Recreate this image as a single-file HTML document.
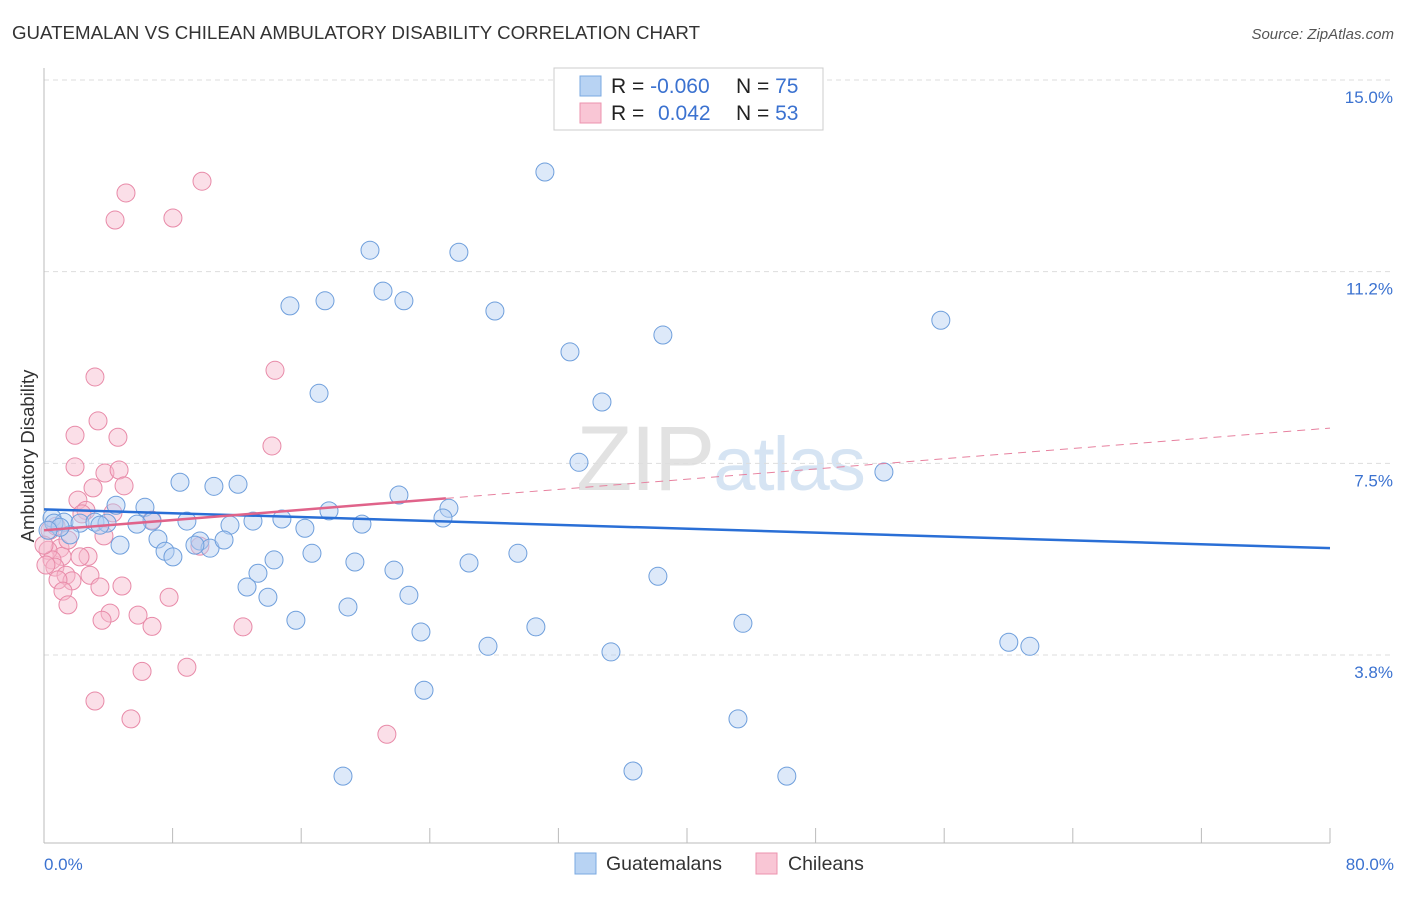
<!DOCTYPE html>
<html><head><meta charset="utf-8"><style>
body{margin:0;background:#fff;font-family:"Liberation Sans",sans-serif;}
svg text{font-family:"Liberation Sans",sans-serif;}
</style></head><body>
<svg id="chart" width="1406" height="892" xmlns="http://www.w3.org/2000/svg">
<text x="12" y="39" font-size="18" fill="#333" textLength="688" lengthAdjust="spacingAndGlyphs">GUATEMALAN VS CHILEAN AMBULATORY DISABILITY CORRELATION CHART</text>
<text x="1394" y="39" font-size="15" fill="#555" text-anchor="end" font-style="italic">Source: ZipAtlas.com</text>
<text x="720" y="490" font-size="92" fill="#e2e2e2" text-anchor="middle" font-family="Liberation Serif" letter-spacing="-2">ZIP<tspan font-family="Liberation Sans" fill="#d6e4f3" font-size="76">atlas</tspan></text>
<g id="grid"></g><g id="axes"></g><g id="pts"></g><g id="lines"></g>
<text transform="translate(34,456) rotate(-90)" font-size="18.5" fill="#333" text-anchor="middle">Ambulatory Disability</text>
<g>
<rect x="554" y="68" width="269" height="62" fill="#fff" stroke="#ccc"/>
<rect x="580" y="76" width="21" height="20" fill="#b8d3f3" stroke="#7aa8e0"/>
<rect x="580" y="103" width="21" height="20" fill="#f9c6d5" stroke="#ec93ae"/>
<text x="611" y="93" font-size="21" fill="#222">R = <tspan fill="#3b72d0">-0.060</tspan></text>
<text x="736" y="93" font-size="21" fill="#222">N = <tspan fill="#3b72d0">75</tspan></text>
<text x="611" y="120" font-size="21" fill="#222">R = <tspan fill="#3b72d0" x="658">0.042</tspan></text>
<text x="736" y="120" font-size="21" fill="#222">N = <tspan fill="#3b72d0">53</tspan></text>
</g>
<g>
<rect x="575" y="853" width="21" height="21" fill="#b8d3f3" stroke="#7aa8e0"/>
<text x="606" y="870" font-size="19.5" fill="#333">Guatemalans</text>
<rect x="756" y="853" width="21" height="21" fill="#f9c6d5" stroke="#ec93ae"/>
<text x="788" y="870" font-size="19.5" fill="#333">Chileans</text>
</g>
</svg>
<script>
const yTicks=[3.75,7.5,11.25,15];
const yTickLabels=["3.8%","7.5%","11.2%","15.0%"];
const xTickLabels=["0.0%","80.0%"];
const blueX=[31.16,20.28,25.81,15.30,17.48,21.09,22.39,28.05,32.72,38.50,55.79,17.11,34.71,33.28,52.25,8.46,10.57,12.07,22.08,17.73,25.19,4.48,6.28,0.50,1.24,2.24,3.17,3.92,6.72,5.78,8.89,11.57,13.00,14.80,16.23,19.78,24.82,1.62,4.73,7.09,7.53,8.02,9.70,10.33,11.20,9.39,16.67,14.31,19.34,21.77,26.44,29.48,13.31,12.63,13.93,22.70,18.91,15.67,23.45,30.60,38.19,43.48,27.62,35.27,60.02,61.33,23.64,43.17,18.60,36.64,46.21,0.62,1.00,0.25,3.48];
const blueY=[13.20,11.67,11.63,10.58,10.68,10.87,10.68,10.48,9.68,10.01,10.30,8.87,8.70,7.52,7.33,7.13,7.05,7.09,6.88,6.57,6.62,6.68,6.64,6.43,6.35,6.33,6.35,6.33,6.37,6.31,6.37,6.29,6.37,6.41,6.23,6.31,6.43,6.10,5.90,6.02,5.78,5.67,5.98,5.84,6.00,5.90,5.74,5.61,5.57,5.41,5.55,5.74,5.35,5.08,4.88,4.92,4.69,4.43,4.20,4.30,5.29,4.37,3.92,3.81,4.00,3.92,3.06,2.50,1.38,1.48,1.38,6.33,6.25,6.19,6.29];
const pinkX=[5.10,9.83,4.42,8.02,14.37,3.17,3.36,1.93,4.60,14.18,1.93,3.79,4.67,3.05,4.98,2.11,2.61,4.29,6.72,3.73,1.00,1.12,2.74,2.24,0.25,0.50,0.68,1.37,2.86,1.74,0.87,4.85,3.48,1.18,7.78,1.49,4.11,5.85,3.61,6.72,12.38,8.89,6.10,3.17,5.41,21.33,9.70,0.37,0.75,1.49,2.36,0,0.12];
const pinkY=[12.79,13.02,12.26,12.30,9.32,9.19,8.33,8.05,8.01,7.84,7.43,7.31,7.37,7.02,7.06,6.78,6.58,6.53,6.39,6.08,5.84,5.68,5.68,5.67,5.80,5.61,5.47,5.31,5.31,5.20,5.22,5.10,5.08,5.00,4.88,4.73,4.57,4.53,4.43,4.31,4.30,3.51,3.43,2.85,2.50,2.20,5.88,6.19,6.27,6.00,6.51,5.90,5.51];
const blueTrend=[6.60,5.84];
const pinkTrend=[6.19,8.19];
const pinkSolidEnd=25;
const NS="http://www.w3.org/2000/svg";
const X0=44,X1=1330,Y0=655,Y1=80;
const sx=v=>X0+(v/80)*(X1-X0);
const sy=v=>Y0-(v-3.75)/(15-3.75)*(Y0-Y1);
function mk(tag,attrs,parent){const e=document.createElementNS(NS,tag);for(const k in attrs)e.setAttribute(k,attrs[k]);parent.appendChild(e);return e;}
const grid=document.getElementById('grid'),axes=document.getElementById('axes'),pts=document.getElementById('pts'),lines=document.getElementById('lines');
yTicks.forEach((t,i)=>{
 const g=mk('line',{x1:X0,x2:1393,y1:sy(t),y2:sy(t),stroke:'#ddd','stroke-dasharray':'5,4'},grid);
 
 
 const l=mk('text',{x:1393,y:sy(t)+23,'font-size':17,fill:'#3b72d0','text-anchor':'end'},axes);
 l.textContent=yTickLabels[i];
 
 
});
const ya=mk('line',{x1:X0,x2:X0,y1:68,y2:843,stroke:'#bbb'},axes);


const xa=mk('line',{x1:X0,x2:X1,y1:843,y2:843,stroke:'#bbb'},axes);


for(let i=0;i<=10;i++){
 const t=mk('line',{x1:sx(i*8),x2:sx(i*8),y1:828,y2:843,stroke:'#bbb'},axes);
 
 
}
[[0,'start',44],[80,'end',1394]].forEach((d,i)=>{
 const l=mk('text',{x:d[2],y:870,'font-size':17,fill:'#3b72d0','text-anchor':d[1]},axes);
 l.textContent=xTickLabels[i];
 
 
});
function dots(xs,ys,fill,stroke,name){xs.forEach((x,i)=>{
 const c=mk('circle',{cx:sx(x),cy:sy(ys[i]),r:9,fill:fill,'fill-opacity':0.45,stroke:stroke,'stroke-width':1},pts);
 
 
});}
dots(pinkX,pinkY,'#f7b8cb','#e88aa8','chilean-point');
dots(blueX,blueY,'#b3cff2','#6f9fdc','guatemalan-point');
const bl=mk('line',{x1:sx(0),y1:sy(blueTrend[0]),x2:sx(80),y2:sy(blueTrend[1]),stroke:'#2a6fd6','stroke-width':2.5},lines);


const pe=pinkTrend[0]+(pinkTrend[1]-pinkTrend[0])*pinkSolidEnd/80;
const pd=mk('line',{x1:sx(pinkSolidEnd),y1:sy(pe),x2:sx(80),y2:sy(pinkTrend[1]),stroke:'#e7819f','stroke-width':1,'stroke-dasharray':'8,6'},lines);


const pl=mk('line',{x1:sx(0),y1:sy(pinkTrend[0]),x2:sx(pinkSolidEnd),y2:sy(pe),stroke:'#e0638a','stroke-width':2.5},lines);


</script>
</body></html>
